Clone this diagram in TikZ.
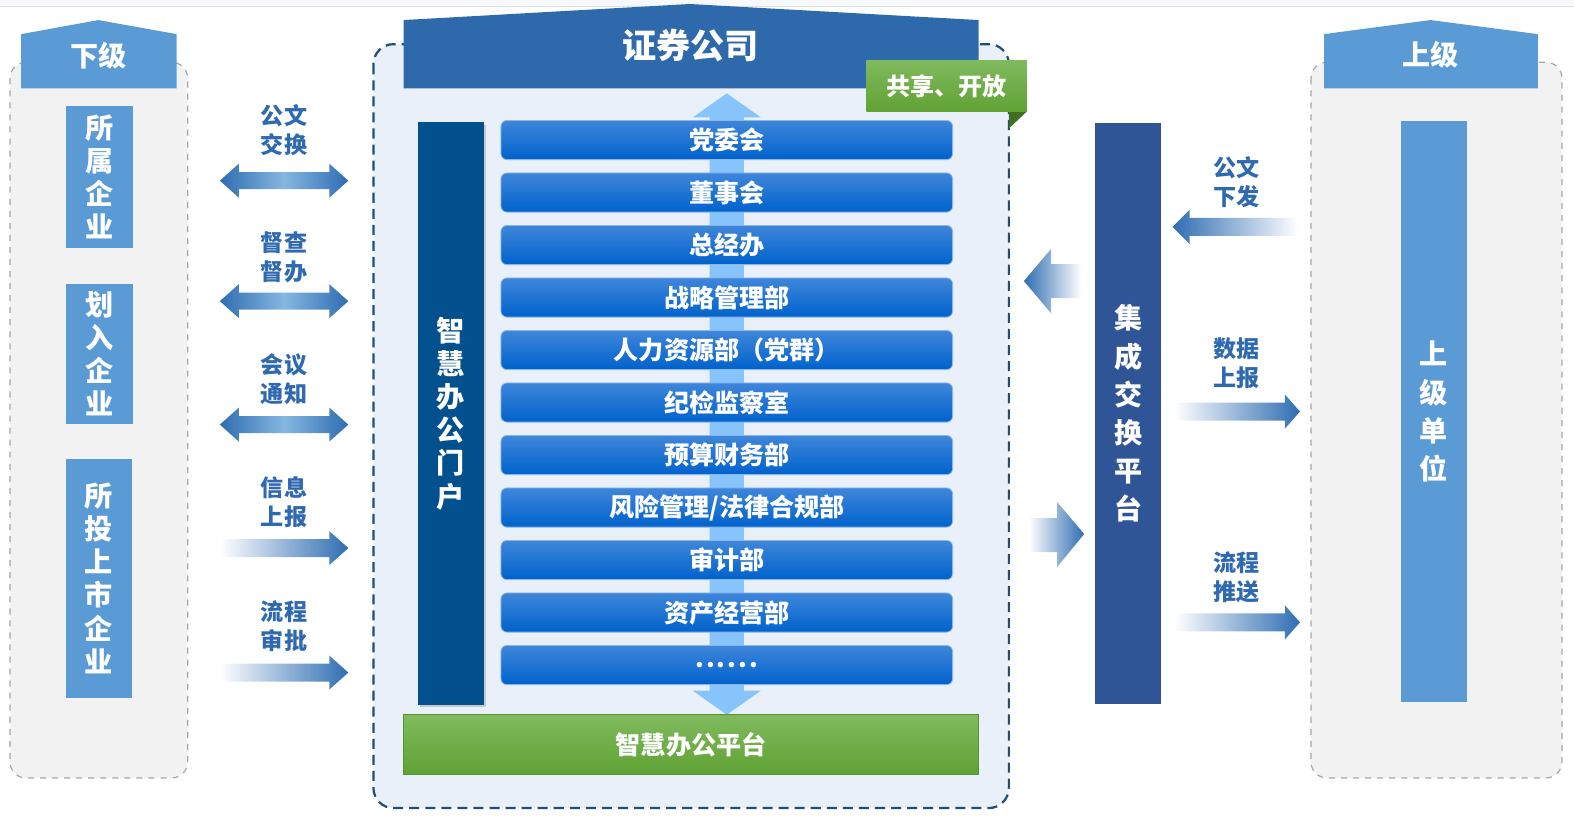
\documentclass[tikz,border=0pt]{standalone}
\usepackage{fontspec}
\setmainfont{Noto Sans CJK SC}
\usetikzlibrary{shadows}
\definecolor{headblue}{HTML}{5B9BD5}
\definecolor{corpblue}{HTML}{2E6AAB}
\definecolor{portalblue}{HTML}{03508F}
\definecolor{hubblue}{HTML}{2F5597}
\definecolor{frameblue}{HTML}{1F4E79}
\definecolor{framefill}{HTML}{E9F0FA}
\definecolor{panelgray}{HTML}{F2F2F2}
\definecolor{panelline}{HTML}{A6A6A6}
\definecolor{depttop}{HTML}{3F86DA}
\definecolor{deptbot}{HTML}{0062CC}
\definecolor{flowblue}{HTML}{88C4FC}
\definecolor{greentop}{HTML}{80BA5E}
\definecolor{greenbot}{HTML}{60A234}
\definecolor{greenfold}{HTML}{3E6F23}
\definecolor{arrdark}{HTML}{2F6DB2}
\definecolor{arrlight}{HTML}{85B7E0}
\definecolor{labelblue}{HTML}{2F6AB0}
\definecolor{topband}{HTML}{F6F8FB}
\newcommand{\deptdots}{\raisebox{-2pt}{.\kern1pt.\kern1pt.\kern1pt.\kern1pt.\kern1pt.}}

\begin{document}
\begin{tikzpicture}[x=0.5pt, y=-0.5pt, font=\bfseries,
    panel/.style={draw=panelline, fill=panelgray, dashed, line width=0.6pt, rounded corners=8pt},
    unitbox/.style={fill=headblue, text=white, align=center, inner sep=0pt,
      font=\bfseries\fontsize{14}{16.5}\selectfont},
    headtext/.style={text=white, font=\bfseries\fontsize{14}{16}\selectfont},
    deptbar/.style={draw=depttop!60!white, line width=0.4pt, top color=depttop, bottom color=deptbot,
      rounded corners=3pt, minimum width=225pt, minimum height=19.5pt, inner sep=0pt,
      text=white, font=\bfseries\fontsize{12.5}{14}\selectfont},
    flowlabel/.style={text=labelblue, align=center, font=\bfseries\fontsize{11.5}{14.5}\selectfont},
  ]
  \useasboundingbox (0,0) rectangle (1568,817);
  \fill[topband] (0,0) rectangle (1568,6);
  \draw[topband!80!gray, line width=0.4pt] (0,6) -- (1568,6);

  % lower level
  \draw[panel] (10,62) rectangle (187,775);
  \fill[headblue] (21,34) -- (98,20) -- (176,34) -- (176,88) -- (21,88) -- cycle;
  \node[headtext] (lowhead) at (98,56) {下级};
  \node[unitbox, minimum width=33pt, minimum height=70.5pt] (subA) at (99,176.5) {所\\属\\企\\业};
  \node[unitbox, minimum width=33pt, minimum height=69.5pt] (subB) at (99,352.5) {划\\入\\企\\业};
  \node[unitbox, minimum width=32.5pt, minimum height=119pt] (subC) at (98.5,576) {所\\投\\上\\市\\企\\业};

  % upper level
  \draw[panel] (1306,62) rectangle (1556,775);
  \fill[headblue] (1319,34) -- (1425,20) -- (1532,34) -- (1532,88) -- (1319,88) -- cycle;
  \node[headtext] (uphead) at (1425,55) {上级};
  \node[unitbox, minimum width=32.5pt, minimum height=289pt,
    font=\bfseries\fontsize{14}{19}\selectfont] (upunit) at (1428.5,410) {上\\级\\单\\位};

  % company frame
  \draw[frameblue, fill=framefill, dashed, dash pattern=on 5pt off 3pt, line width=1.1pt,
    rounded corners=10pt] (372,44) rectangle (1005,805);
  \fill[corpblue] (402,20) -- (687,4) -- (975,20) -- (975,88) -- (402,88) -- cycle;
  \node[text=white, font=\bfseries\fontsize{17}{20}\selectfont] (corp) at (688,45) {证券公司};
  \fill[greenfold] (1005,111) -- (1023,111) -- (1005,128) -- cycle;
  \node[top color=greentop, bottom color=greenbot, minimum width=80pt, minimum height=25.5pt,
    inner sep=0pt, text=white, font=\bfseries\fontsize{12}{14}\selectfont] (share) at (943,85.5) {共享、开放};

  \fill[flowblue] (724,93) -- (758,117) -- (741,117) -- (741,688) -- (758,688) -- (724,712)
    -- (690,688) -- (707,688) -- (707,117) -- (690,117) -- cycle;

  \node[fill=portalblue, minimum width=33pt, minimum height=290pt, inner sep=0pt, text=white,
    align=center, font=\bfseries\fontsize{14}{16.5}\selectfont,
    drop shadow={opacity=0.35, shadow xshift=1.2pt, shadow yshift=-1.2pt}] (portal) at (449,412)
    {智\\慧\\办\\公\\门\\户};

  \foreach \d [count=\i from 0] in {党委会, 董事会, 总经办, 战略管理部, 人力资源部（党群）,
      纪检监察室, 预算财务部, 风险管理/法律合规部, 审计部, 资产经营部, \deptdots}
    \node[deptbar] (dept\i) at (724,139.5+52.3*\i) {\d};

  \node[draw=greenbot!90!black, line width=0.4pt, top color=greentop, bottom color=greenbot,
    minimum width=286.5pt, minimum height=29.5pt, inner sep=0pt, text=white,
    font=\bfseries\fontsize{12.5}{14}\selectfont] (platform) at (688.5,741.5) {智慧办公平台};

  % exchange hub
  \node[fill=hubblue, minimum width=33pt, minimum height=289pt, inner sep=0pt, text=white,
    align=center, font=\bfseries\fontsize{14}{19}\selectfont] (hub) at (1124,412)
    {集\\成\\交\\换\\平\\台};
  \path[left color=arrdark, right color=white] (1020,280) -- (1047,248) -- (1047,263) -- (1077,263)
    -- (1077,297) -- (1047,297) -- (1047,312) -- cycle;
  \path[left color=white, right color=arrdark] (1025,516) -- (1053,516) -- (1053,500) -- (1080,532)
    -- (1053,565) -- (1053,550) -- (1025,550) -- cycle;

  % flows with lower level
  \foreach \y in {180,300,423}
    \path[left color=arrdark, right color=arrdark, middle color=arrlight]
      (219,\y) -- (238,\y-17) -- (238,\y-8.5) -- (328,\y-8.5) -- (328,\y-17) -- (347,\y)
      -- (328,\y+17) -- (328,\y+8.5) -- (238,\y+8.5) -- (238,\y+17) -- cycle;
  \foreach \y in {546,670}
    \path[left color=white, right color=arrdark]
      (219,\y-9) -- (328,\y-9) -- (328,\y-17) -- (347,\y) -- (328,\y+17) -- (328,\y+9)
      -- (219,\y+9) -- cycle;
  \node[flowlabel] (docswap) at (283,130) {公文\\交换};
  \node[flowlabel] (inspect) at (283,256) {督查\\督办};
  \node[flowlabel] (meeting) at (283,378) {会议\\通知};
  \node[flowlabel] (inforep) at (283,500) {信息\\上报};
  \node[flowlabel] (approve) at (283,624) {流程\\审批};

  % flows with upper level
  \path[left color=arrdark, right color=white]
    (1168,226) -- (1185,209) -- (1185,217) -- (1293,217) -- (1293,235) -- (1185,235)
    -- (1185,243) -- cycle;
  \foreach \y in {410,620}
    \path[left color=white, right color=arrdark]
      (1170,\y-9) -- (1280,\y-9) -- (1280,\y-17) -- (1295,\y) -- (1280,\y+17) -- (1280,\y+9)
      -- (1170,\y+9) -- cycle;
  \node[flowlabel] (docsend) at (1232,181) {公文\\下发};
  \node[flowlabel] (datarep) at (1232,362) {数据\\上报};
  \node[flowlabel] (flowpush) at (1232,575) {流程\\推送};
\end{tikzpicture}
\end{document}
